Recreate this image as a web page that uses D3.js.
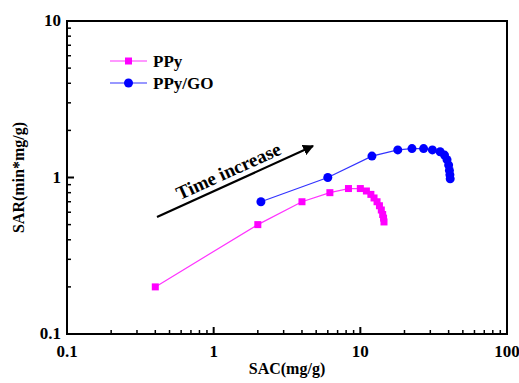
<!DOCTYPE html>
<html>
<head>
<meta charset="utf-8">
<script src="https://cdn.jsdelivr.net/npm/d3@7"></script>
<style>
  html, body { margin: 0; padding: 0; background: #fff; }
  svg { display: block; }
  svg text { font-family: "Liberation Serif", "Times New Roman", Times, serif; font-weight: 700; }
</style>
</head>
<body>
<svg id="chart" width="519" height="383"></svg>
<script>
// SAC vs SAR for the two adsorbents (log-log)
const ppySAC = [0.4, 2, 4, 6.2, 8.3, 10, 11, 11.8, 12.4, 13, 13.5, 13.9, 14.2, 14.4, 14.5];
const ppySAR = [0.2, 0.5, 0.7, 0.8, 0.85, 0.85, 0.82, 0.78, 0.74, 0.70, 0.66, 0.62, 0.58, 0.55, 0.52];
const goSAC = [2.1, 6, 12, 18, 22.5, 27, 31, 35, 37.5, 39, 40, 40.5, 40.8, 41];
const goSAR = [0.70, 1.0, 1.37, 1.5, 1.53, 1.53, 1.50, 1.46, 1.39, 1.30, 1.20, 1.11, 1.04, 0.98];
const xTicks = [0.1, 1, 10, 100];
const yTicks = [0.1, 1, 10];
const seriesNames = ["PPy", "PPy/GO"];

const FONT = '"Liberation Serif", "Times New Roman", Times, serif';
const svg = d3.select("#chart")
  .attr("font-family", FONT).attr("font-weight", "bold");
const mLeft = 67, mRight = 507, mTop = 21, mBottom = 334;

const x = d3.scaleLog().domain([0.1, 100]).range([mLeft, mRight]);
const y = d3.scaleLog().domain([0.1, 10]).range([mBottom, mTop]);

// minor ticks for each decade
function minors(lo, hi) {
  const out = [];
  for (let d = lo; d < hi * 0.99; d *= 10)
    for (let k = 2; k <= 9; k++) out.push(d * k);
  return out;
}

// frame
svg.append("rect")
  .attr("x", mLeft).attr("y", mTop)
  .attr("width", mRight - mLeft).attr("height", mBottom - mTop)
  .attr("fill", "none").attr("stroke", "#000").attr("stroke-width", 2);

// bottom axis ticks (inward)
const gx = svg.append("g");
gx.selectAll("line.maj").data(xTicks).join("line").attr("class", "maj")
  .attr("x1", d => x(d)).attr("x2", d => x(d))
  .attr("y1", mBottom).attr("y2", mBottom - 7)
  .attr("stroke", "#000").attr("stroke-width", 2);
gx.selectAll("line.min").data(minors(0.1, 100)).join("line").attr("class", "min")
  .attr("x1", d => x(d)).attr("x2", d => x(d))
  .attr("y1", mBottom).attr("y2", mBottom - 4)
  .attr("stroke", "#000").attr("stroke-width", 1.5);
gx.selectAll("text").data(xTicks).join("text")
  .attr("x", d => x(d)).attr("y", mBottom + 23)
  .attr("text-anchor", "middle").attr("font-size", 17)
  .text(d => d3.format("~g")(d));

// left axis ticks (inward)
const gy = svg.append("g");
gy.selectAll("line.maj").data(yTicks).join("line").attr("class", "maj")
  .attr("x1", mLeft).attr("x2", mLeft + 7)
  .attr("y1", d => y(d)).attr("y2", d => y(d))
  .attr("stroke", "#000").attr("stroke-width", 2);
gy.selectAll("line.min").data(minors(0.1, 10)).join("line").attr("class", "min")
  .attr("x1", mLeft).attr("x2", mLeft + 4)
  .attr("y1", d => y(d)).attr("y2", d => y(d))
  .attr("stroke", "#000").attr("stroke-width", 1.5);
gy.selectAll("text").data(yTicks).join("text")
  .attr("x", mLeft - 6).attr("y", d => y(d) + 5)
  .attr("text-anchor", "end").attr("font-size", 17)
  .text(d => d3.format("~g")(d));

// axis titles
svg.append("text")
  .attr("x", (mLeft + mRight) / 2).attr("y", 374)
  .attr("text-anchor", "middle").attr("font-size", 16)
  .text("SAC(mg/g)");
svg.append("text")
  .attr("transform", `translate(24,${(mTop + mBottom) / 2}) rotate(-90)`)
  .attr("text-anchor", "middle").attr("font-size", 16)
  .text("SAR(min*mg/g)");

const line = d3.line().x(d => x(d[0])).y(d => y(d[1]));
const ppy = ppySAC.map((v, i) => [v, ppySAR[i]]);
const go = goSAC.map((v, i) => [v, goSAR[i]]);

// PPy series
svg.append("path").datum(ppy).attr("d", line)
  .attr("fill", "none").attr("stroke", "#ff33ff").attr("stroke-width", 1.2);
svg.selectAll("rect.ppy").data(ppy).join("rect")
  .attr("class", "ppy")
  .attr("x", d => x(d[0]) - 3.5).attr("y", d => y(d[1]) - 3.5)
  .attr("width", 7).attr("height", 7).attr("fill", "#ff00ff");

// PPy/GO series
svg.append("path").datum(go).attr("d", line)
  .attr("fill", "none").attr("stroke", "#3333ff").attr("stroke-width", 1.2);
svg.selectAll("circle.go").data(go).join("circle")
  .attr("class", "go")
  .attr("cx", d => x(d[0])).attr("cy", d => y(d[1]))
  .attr("r", 4.5).attr("fill", "#0000ff");

// legend
const lg = svg.append("g");
const legendRows = [
  { name: seriesNames[0], color: "#ff00ff", line: "#ff33ff", shape: "square", yy: 61 },
  { name: seriesNames[1], color: "#0000ff", line: "#3333ff", shape: "circle", yy: 83 }
];
legendRows.forEach(r => {
  lg.append("line").attr("x1", 110).attr("x2", 147).attr("y1", r.yy).attr("y2", r.yy)
    .attr("stroke", r.line).attr("stroke-width", 1.2);
  if (r.shape === "square")
    lg.append("rect").attr("x", 125).attr("y", r.yy - 3.5).attr("width", 7).attr("height", 7).attr("fill", r.color);
  else
    lg.append("circle").attr("cx", 128.5).attr("cy", r.yy).attr("r", 4.5).attr("fill", r.color);
  lg.append("text").attr("x", 153).attr("y", r.yy + 6).attr("font-size", 17).text(r.name);
});

// "Time increase" arrow
svg.append("defs").append("marker")
  .attr("id", "head").attr("viewBox", "0 0 10 10")
  .attr("refX", 9).attr("refY", 5)
  .attr("markerWidth", 5).attr("markerHeight", 5)
  .attr("markerUnits", "strokeWidth")
  .attr("orient", "auto")
  .append("path").attr("d", "M0,0 L10,5 L0,10 Z").attr("fill", "#000");
svg.append("line")
  .attr("x1", 157).attr("y1", 217).attr("x2", 313).attr("y2", 146)
  .attr("stroke", "#000").attr("stroke-width", 2.2)
  .attr("marker-end", "url(#head)");
const ang = Math.atan2(146 - 217, 313 - 157) * 180 / Math.PI;
svg.append("text")
  .attr("transform", `translate(231,177) rotate(${ang})`)
  .attr("text-anchor", "middle").attr("font-size", 19)
  .text("Time increase");
</script>
</body>
</html>
